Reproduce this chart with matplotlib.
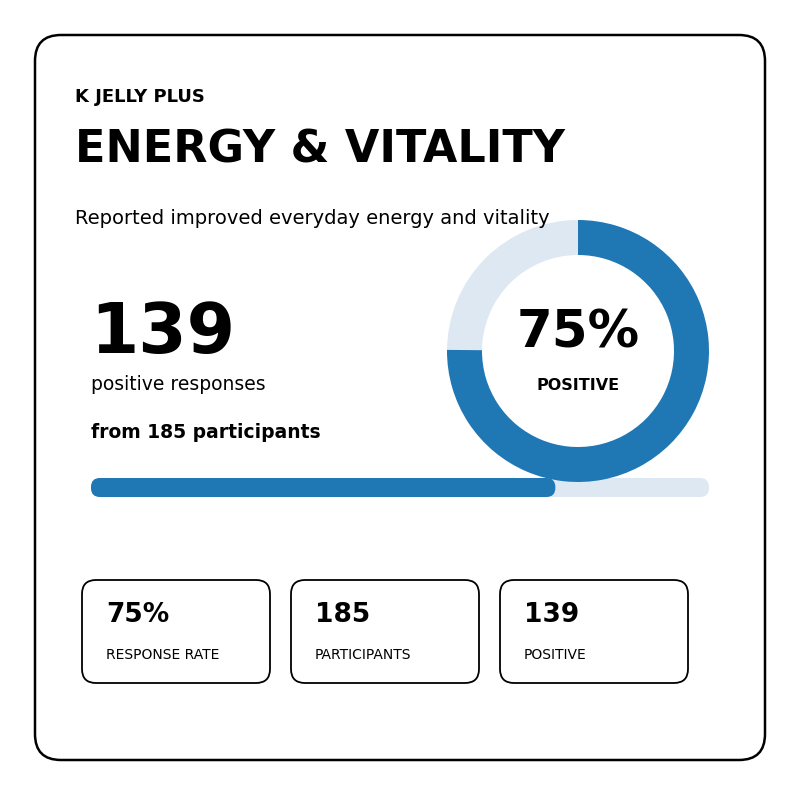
import matplotlib
matplotlib.use("Agg")
from matplotlib import pyplot as plt
from matplotlib.patches import FancyBboxPatch, Wedge

brand = "K JELLY PLUS"
title = "ENERGY & VITALITY"
subtitle = "Reported improved everyday energy and vitality"
positive = 139
participants = 185
card_values = ["75%", "185", "139"]
card_labels = ["RESPONSE RATE", "PARTICIPANTS", "POSITIVE"]

BLUE = "#1f77b4"
LIGHT = "#dde8f3"
W, H = 800, 795
share = positive / participants

fig = plt.figure(figsize=(W / 100, H / 100), dpi=100)
ax = fig.add_axes([0, 0, 1, 1])
ax.set_xlim(0, W)
ax.set_ylim(0, H)
ax.axis("off")

def Y(py):
    return H - py

# outer card
ax.add_patch(FancyBboxPatch((35, Y(760)), 730, 725, boxstyle="round,pad=0,rounding_size=26",
                            fc="white", ec="black", lw=1.8))

ax.text(75, Y(97), brand, fontsize=13, weight="bold", va="center")
ax.text(75, Y(150), title, fontsize=32, weight="bold", va="center")
ax.text(75, Y(218), subtitle, fontsize=14, va="center")

ax.text(90, Y(333), str(positive), fontsize=50, weight="bold", va="center")
ax.text(91, Y(385), "positive responses", fontsize=13.5, va="center")
ax.text(91, Y(432), f"from {participants} participants", fontsize=13.5, weight="bold", va="center")

# progress bar
ax.add_patch(FancyBboxPatch((91, Y(497)), 618, 19, boxstyle="round,pad=0,rounding_size=9",
                            fc=LIGHT, ec="none"))
ax.add_patch(FancyBboxPatch((91, Y(497)), 618 * share, 19, boxstyle="round,pad=0,rounding_size=9",
                            fc=BLUE, ec="none"))

# donut
cx, cy, r, wd = 578, Y(351), 131, 35
ax.add_patch(Wedge((cx, cy), r, 90, 90 + 360 * (1 - share), width=wd, fc=LIGHT, ec="none"))
ax.add_patch(Wedge((cx, cy), r, 90 + 360 * (1 - share), 450, width=wd, fc=BLUE, ec="none"))
ax.text(cx, Y(334), f"{share:.0%}", fontsize=37, weight="bold", ha="center", va="center")
ax.text(cx, Y(385), "POSITIVE", fontsize=11.5, weight="bold", ha="center", va="center")

# stat cards
for i, (v, lab) in enumerate(zip(card_values, card_labels)):
    x0 = 82 + i * 209
    ax.add_patch(FancyBboxPatch((x0, Y(683)), 188, 103, boxstyle="round,pad=0,rounding_size=14",
                                fc="white", ec="black", lw=1.3))
    ax.text(x0 + 24, Y(615), v, fontsize=19, weight="bold", va="center")
    ax.text(x0 + 24, Y(655), lab, fontsize=10, va="center")

fig.savefig("out.png", dpi=100, facecolor="white")
